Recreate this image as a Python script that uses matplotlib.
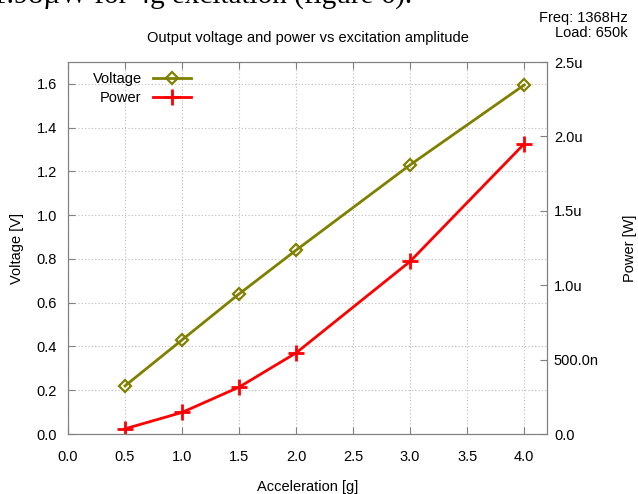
import numpy as np
import matplotlib.pyplot as plt
from matplotlib.ticker import FuncFormatter

accel = [0.5, 1.0, 1.5, 2.0, 3.0, 4.0]
voltage = [0.22, 0.43, 0.64, 0.84, 1.23, 1.595]
power = [0.035e-6, 0.145e-6, 0.315e-6, 0.545e-6, 1.16e-6, 1.95e-6]

OLIVE = "#808000"
GREY = "#808080"

plt.rcParams.update({"font.family": ["Liberation Sans", "DejaVu Sans"],
                     "font.size": 10.5})

fig = plt.figure(figsize=(6.38, 4.94), dpi=100)
ax = fig.add_axes([68 / 638, 1 - 434 / 494, 479 / 638, 372 / 494])
ax2 = ax.twinx()

ax.plot(accel, voltage, "-D", color=OLIVE, lw=2, ms=6.5, mfc="none", mew=1.6,
        label="Voltage")
ax2.plot(accel, power, "-+", color="red", lw=2, ms=12, mew=2, label="Power")

ax.set_xlim(0, 4.2)
ax.set_ylim(0, 1.7)
ax2.set_ylim(0, 2.5e-6)
ax.set_xticks(np.arange(0, 4.01, 0.5))
ax.set_yticks(np.arange(0, 1.61, 0.2))
ax2.set_yticks(np.arange(0, 2.51e-6, 0.5e-6))
ax.xaxis.set_major_formatter(FuncFormatter(lambda v, p: f"{v:.1f}"))
ax.yaxis.set_major_formatter(FuncFormatter(lambda v, p: f"{v:.1f}"))


def si(v, p):
    if v == 0:
        return "0.0"
    if v < 1e-6 - 1e-12:
        return f"{v * 1e9:.1f}n"
    return f"{v * 1e6:.1f}u"


ax2.yaxis.set_major_formatter(FuncFormatter(si))

ax.grid(True, ls=(0, (1, 2)), color="#bbbbbb", lw=0.8)
for a in (ax, ax2):
    for s in a.spines.values():
        s.set_color(GREY)
    a.tick_params(colors=GREY, labelcolor="black", labelsize=10.5,
                  direction="in", length=5)
ax.tick_params(axis="x", top=True, pad=11.5)
ax.tick_params(axis="y", pad=8)
ax2.tick_params(axis="y", pad=5)

ax.set_xlabel("Acceleration [g]", labelpad=11.5)
ax.set_ylabel("Voltage [V]", labelpad=9)
ax2.set_ylabel("Power [W]", labelpad=17)

h1, l1 = ax.get_legend_handles_labels()
h2, l2 = ax2.get_legend_handles_labels()
leg = ax.legend(h1 + h2, l1 + l2, loc="upper left", frameon=False,
                markerfirst=False, handlelength=2.6, borderaxespad=0.3,
                labelspacing=0.35, fontsize=10.5, bbox_to_anchor=(0.03, 1.0))

ax.set_title("Output voltage and power vs excitation amplitude", pad=14.5,
             fontsize=10.5)
fig.text(628 / 638, 1 - 18 / 494, "Freq: 1368Hz", ha="right", va="center",
         fontsize=10.5)
fig.text(628 / 638, 1 - 33 / 494, "Load: 650k", ha="right", va="center",
         fontsize=10.5)

# tail of the document line cut off above the figure
fig.text(-0.012, 1 - 4 / 494, "1.98\u00b5W for 4g excitation (figure 6).",
         ha="left", va="baseline", fontsize=21,
         family=["Liberation Serif", "DejaVu Serif"])

fig.savefig("out.png", dpi=100)
